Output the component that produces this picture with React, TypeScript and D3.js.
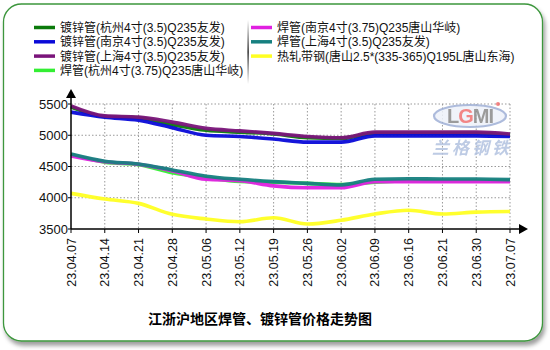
import React from "react";
import * as d3 from "d3";

const dates = ["23.04.07","23.04.14","23.04.21","23.04.28","23.05.06","23.05.12","23.05.19","23.05.26","23.06.02","23.06.09","23.06.16","23.06.21","23.06.30","23.07.07"];
const yTicks = [3500, 4000, 4500, 5000, 5500];

const galvHangzhou = [5450, 5300, 5280, 5170, 5080, 5050, 5020, 4960, 4950, 5030, 5030, 5030, 5030, 5000];
const galvNanjing = [5370, 5290, 5240, 5120, 5000, 4980, 4940, 4890, 4890, 4990, 4990, 4990, 4990, 4980];
const galvShanghai = [5470, 5310, 5290, 5210, 5110, 5070, 5030, 4980, 4960, 5050, 5050, 5050, 5050, 5020];
const weldHangzhou = [4690, 4570, 4530, 4400, 4320, 4260, 4250, 4230, 4210, 4250, 4270, 4270, 4270, 4270];
const weldNanjing = [4670, 4575, 4535, 4430, 4295, 4273, 4190, 4160, 4160, 4258, 4258, 4258, 4258, 4258];
const weldShanghai = [4700, 4585, 4540, 4445, 4345, 4295, 4258, 4230, 4205, 4295, 4305, 4300, 4300, 4290];
const hotRolled = [4070, 3980, 3910, 3735, 3660, 3617, 3680, 3580, 3640, 3740, 3800, 3740, 3770, 3780];

const seriesNames = [
  "镀锌管(杭州4寸(3.5)Q235友发)",
  "镀锌管(南京4寸(3.5)Q235友发)",
  "镀锌管(上海4寸(3.5)Q235友发)",
  "焊管(杭州4寸(3.75)Q235唐山华岐)",
  "焊管(南京4寸(3.75)Q235唐山华岐)",
  "焊管(上海4寸(3.5)Q235友发)",
  "热轧带钢(唐山2.5*(335-365)Q195L唐山东海)",
];
const seriesValues = [galvHangzhou, galvNanjing, galvShanghai, weldHangzhou, weldNanjing, weldShanghai, hotRolled];
const seriesColors = ["#0b7a0b", "#0a0ad8", "#7a147a", "#33ee33", "#e020e0", "#168080", "#ffff22"];

const title = "江浙沪地区焊管、镀锌管价格走势图";

export default function App() {
  const left = 71, right = 510, top = 104, bottom = 229;
  const x = d3.scaleLinear().domain([0, dates.length - 1]).range([left, right]);
  const y = d3.scaleLinear().domain([3500, 5500]).range([bottom, top]);
  const line = d3.line<number>().x((_, i) => x(i)).y((v) => y(v)).curve(d3.curveMonotoneX);
  const font = "'Liberation Sans', Arial, 'Noto Sans CJK SC', sans-serif";

  return (
    <svg width={550} height={350} style={{ position: "absolute", left: 0, top: 0 }} fontFamily={font}>
      <defs>
        <filter id="sh" x="-5%" y="-5%" width="112%" height="115%">
          <feDropShadow dx="2" dy="4" stdDeviation="2.2" floodColor="#000" floodOpacity="0.38" />
        </filter>
        <linearGradient id="sep" x1="0" y1="0" x2="0" y2="1">
          <stop offset="0" stopColor="#fff" />
          <stop offset="0.5" stopColor="#000" />
          <stop offset="1" stopColor="#fff" />
        </linearGradient>
      </defs>
      <rect x={0} y={0} width={550} height={350} fill="#fff" />
      <rect x={3.5} y={4} width={539} height={337} rx={18} ry={18} fill="#fff" stroke="#3c963c" strokeWidth={1.3} filter="url(#sh)" />

      {seriesNames.map((n, i) => {
        const col = i < 4 ? 0 : 1;
        const row = i < 4 ? i : i - 4;
        const lx = col === 0 ? 34 : 251;
        const ly = 27.5 + row * 14.3;
        return (
          <g key={n}>
            <line x1={lx} x2={lx + 21} y1={ly} y2={ly} stroke={seriesColors[i]} strokeWidth={3.5} />
            <text x={lx + 26} y={ly + 4.5} fontSize={12} fill="#111">{n}</text>
          </g>
        );
      })}
      <rect x={247.5} y={20} width={1.2} height={64} fill="url(#sep)" />

      {yTicks.slice(1).map((t) => (
        <line key={"h" + t} x1={left} x2={right} y1={y(t)} y2={y(t)} stroke="#999" strokeDasharray="1.5,2" />
      ))}
      {dates.map((d, i) => i > 0 && (
        <line key={"v" + d} x1={x(i)} x2={x(i)} y1={top} y2={bottom} stroke="#999" strokeDasharray="1.5,2" />
      ))}

      <g opacity={0.85}>
        <ellipse cx={470} cy={116} rx={36} ry={11} fill="#eef2fa" stroke="#9fb0d6" strokeWidth={2.2} />
        <text x={470} y={123} textAnchor="middle" fontSize={20} fontWeight="bold" fill="#8a8a8a" letterSpacing={-1}>
          L<tspan fill="#f07070">G</tspan>MI
        </text>
        <circle cx={498} cy={104} r={2} fill="#f07070" />
        <text x={472} y={154} textAnchor="middle" fontSize={17} fontStyle="italic" fontWeight="bold" fill="#b2c2e0" fontFamily="'Noto Sans CJK SC', sans-serif" letterSpacing={3}>兰格钢铁</text>
      </g>

      {seriesValues.map((vals, i) => (
        <path key={i} d={line(vals) || ""} fill="none" stroke={seriesColors[i]} strokeWidth={3.6} strokeOpacity={0.95} strokeLinejoin="round" />
      ))}

      <line x1={left} x2={520} y1={bottom} y2={bottom} stroke="#000" strokeWidth={1.5} />
      <path d={`M519,${bottom - 5} L528,${bottom} L519,${bottom + 5} Z`} fill="#000" />
      <line x1={left} x2={left} y1={bottom} y2={96} stroke="#000" strokeWidth={1.5} />
      <path d={`M${left - 5},98 L${left},89 L${left + 5},98 Z`} fill="#000" />
      {yTicks.map((t) => (
        <g key={"yt" + t}>
          <line x1={left - 3} x2={left} y1={y(t)} y2={y(t)} stroke="#000" />
          <text x={left - 3} y={y(t) + 4.5} textAnchor="end" fontSize={13} fill="#111">{t}</text>
        </g>
      ))}
      {dates.map((d, i) => (
        <g key={"xt" + d}>
          <line x1={x(i)} x2={x(i)} y1={bottom} y2={bottom + 4} stroke="#000" />
          <text transform={`translate(${x(i) + 4.5},${bottom + 9}) rotate(-90)`} textAnchor="end" fontSize={12.5} fill="#111">{d}</text>
        </g>
      ))}

      <text x={260} y={324} textAnchor="middle" fontSize={14} fontWeight="bold" fill="#000" fontFamily="'Noto Sans CJK SC', sans-serif">{title}</text>
    </svg>
  );
}
